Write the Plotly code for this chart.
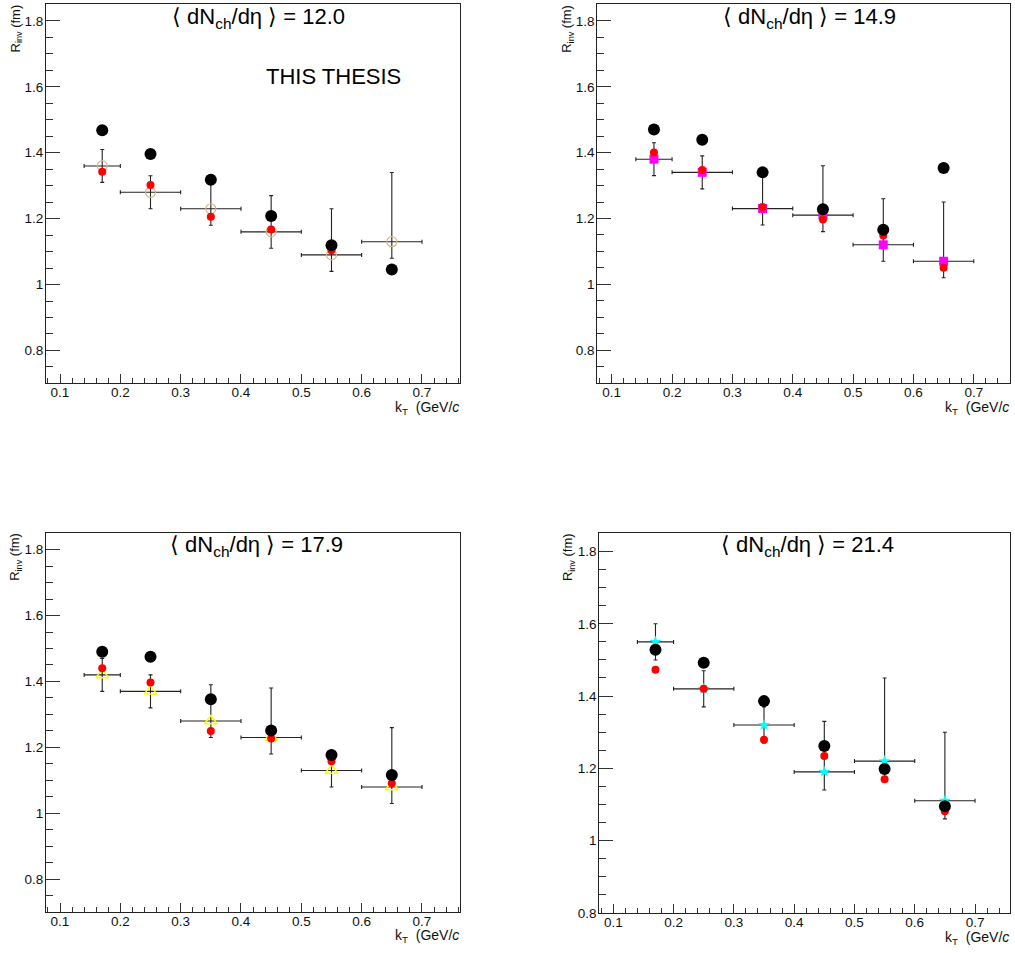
import plotly.graph_objects as go

W, H = 1015, 953

kt = [0.17, 0.25, 0.35, 0.45, 0.55, 0.65]
kt_err = [0.03, 0.05, 0.05, 0.05, 0.05, 0.05]

titles = ["12.0", "14.9", "17.9", "21.4"]

# Panel 1 (<dNch/deta> = 12.0)
p1_black = [1.468, 1.396, 1.318, 1.208, 1.119, 1.046]
p1_red = [1.342, 1.302, 1.206, 1.167, 1.104]
p1_open = [1.36, 1.28, 1.23, 1.16, 1.09, 1.13]
p1_up = [0.05, 0.05, 0.09, 0.11, 0.14, 0.21]
p1_dn = [0.05, 0.05, 0.05, 0.05, 0.05, 0.05]

# Panel 2 (14.9)
p2_black = [1.470, 1.439, 1.340, 1.228, 1.166, 1.353]
p2_red = [1.400, 1.347, 1.235, 1.197, 1.148, 1.050]
p2_open = [1.38, 1.34, 1.23, 1.21, 1.12, 1.07]
p2_up = [0.05, 0.05, 0.11, 0.15, 0.14, 0.18]
p2_dn = [0.05, 0.05, 0.05, 0.05, 0.05, 0.05]

# Panel 3 (17.9)
p3_black = [1.490, 1.475, 1.346, 1.251, 1.177, 1.116]
p3_red = [1.440, 1.397, 1.250, 1.227, 1.158, 1.091]
p3_open = [1.42, 1.37, 1.28, 1.23, 1.13, 1.08]
p3_up = [0.05, 0.05, 0.11, 0.15, 0.05, 0.18]
p3_dn = [0.05, 0.05, 0.05, 0.05, 0.05, 0.05]

# Panel 4 (21.4)
p4_black = [1.528, 1.492, 1.386, 1.262, 1.198, 1.095]
p4_red = [1.473, 1.420, 1.279, 1.234, 1.170, 1.081]
p4_open = [1.55, 1.42, 1.32, 1.19, 1.22, 1.11]
p4_up = [0.05, 0.05, 0.05, 0.14, 0.23, 0.19]
p4_dn = [0.05, 0.05, 0.05, 0.05, 0.05, 0.05]

panels = [
    dict(black=p1_black, red=p1_red, opn=p1_open, up=p1_up, dn=p1_dn,
         sym="circle-open", col="#d9b68a", size=10, lw=1.2),
    dict(black=p2_black, red=p2_red, opn=p2_open, up=p2_up, dn=p2_dn,
         sym="square", col="#ff00ff", size=9, lw=0),
    dict(black=p3_black, red=p3_red, opn=p3_open, up=p3_up, dn=p3_dn,
         sym="triangle-up-open", col="#ffff00", size=11, lw=1.5),
    dict(black=p4_black, red=p4_red, opn=p4_open, up=p4_up, dn=p4_dn,
         sym="star", col="#00ffff", size=9, lw=0),
]

# pixel geometry of frames: (left, right, top, bottom)
frames = [(46, 460, 4.5, 386), (597.3, 1010, 4.5, 386),
          (46, 460, 537.3, 919.3), (599.3, 1010, 537.3, 920.7)]
yranges = [[0.702, 1.850], [0.701, 1.850], [0.702, 1.851], [0.7995, 1.852]]
xranges = [[0.0768, 0.763], [0.0761, 0.760], [0.0768, 0.763], [0.0768, 0.758]]
title_pos = [(170, 18), (721, 18), (168, 551), (719, 551)]

FONT = "Liberation Sans, Arial, sans-serif"
fig = go.Figure()
layout = dict(width=W, height=H, margin=dict(l=0, r=0, t=0, b=0),
              paper_bgcolor="white", plot_bgcolor="white", showlegend=False,
              font=dict(family=FONT, size=13, color="#111"))
annotations = []

for i, p in enumerate(panels):
    n = "" if i == 0 else str(i + 1)
    xa, ya = "x" + n, "y" + n
    fig.add_trace(go.Scatter(
        x=kt, y=p["opn"], xaxis=xa, yaxis=ya, mode="markers",
        marker=dict(symbol=p["sym"], size=p["size"], color=p["col"],
                    line=dict(width=p["lw"], color=p["col"])),
        error_y=dict(type="data", symmetric=False, array=p["up"], arrayminus=p["dn"],
                     color="#222", thickness=1.1, width=2),
        error_x=dict(type="data", array=kt_err, color="#222", thickness=1.1, width=2),
        cliponaxis=False))
    fig.add_trace(go.Scatter(
        x=kt[:len(p["red"])], y=p["red"], xaxis=xa, yaxis=ya, mode="markers",
        marker=dict(symbol="circle", size=8, color="#ff0000")))
    fig.add_trace(go.Scatter(
        x=kt, y=p["black"], xaxis=xa, yaxis=ya, mode="markers",
        marker=dict(symbol="circle", size=12, color="#000000")))

    l, r, t, b = frames[i]
    axcommon = dict(showline=True, linecolor="#222", linewidth=1, mirror=True,
                    showgrid=False, zeroline=False, ticks="inside", tickcolor="#333",
                    tickfont=dict(family=FONT, size=13.5, color="#111"))
    layout["xaxis" + n] = dict(
        domain=[l / W, r / W], range=xranges[i], anchor=ya,
        tick0=0, dtick=0.1, ticklen=9, ticklabelstandoff=-3,
        minor=dict(dtick=0.02, ticklen=5, ticks="inside", tickcolor="#333"),
        **axcommon)
    layout["yaxis" + n] = dict(
        domain=[1 - b / H, 1 - t / H], range=yranges[i], anchor=xa,
        tick0=0, dtick=0.2, ticklen=14, tickformat="~g", ticklabelstandoff=-1,
        minor=dict(dtick=0.05, ticklen=7, ticks="inside", tickcolor="#333"),
        **axcommon)

    tx, ty = title_pos[i]
    annotations.append(dict(
        x=tx / W, y=1 - ty / H, xref="paper", yref="paper", xanchor="left", yanchor="middle",
        text="\u27e8 dN<sub>ch</sub>/d\u03b7 \u27e9 = " + titles[i], showarrow=False,
        font=dict(family=FONT, size=22, color="#000")))
    annotations.append(dict(
        x=(r + 1) / W, y=1 - (b + 25) / H, xref="paper", yref="paper", xanchor="right", yanchor="middle",
        text="k<sub>T</sub>\u00a0\u00a0(GeV/<i>c</i>", showarrow=False,
        font=dict(family=FONT, size=14, color="#111")))
    annotations.append(dict(
        x=(l - 30) / W, y=1 - (t - 2) / H, xref="paper", yref="paper", xanchor="center", yanchor="top",
        text="R<sub>inv</sub> (fm)", textangle=-90, showarrow=False,
        font=dict(family=FONT, size=13, color="#111")))

annotations.append(dict(
    x=264 / W, y=1 - 77 / H, xref="paper", yref="paper", xanchor="left", yanchor="middle",
    text="THIS THESIS", showarrow=False, font=dict(family=FONT, size=22, color="#000")))

layout["annotations"] = annotations
fig.update_layout(**layout)
fig.write_html("out.html", config={"displayModeBar": False},
               post_script="document.body.style.margin='0px';")
